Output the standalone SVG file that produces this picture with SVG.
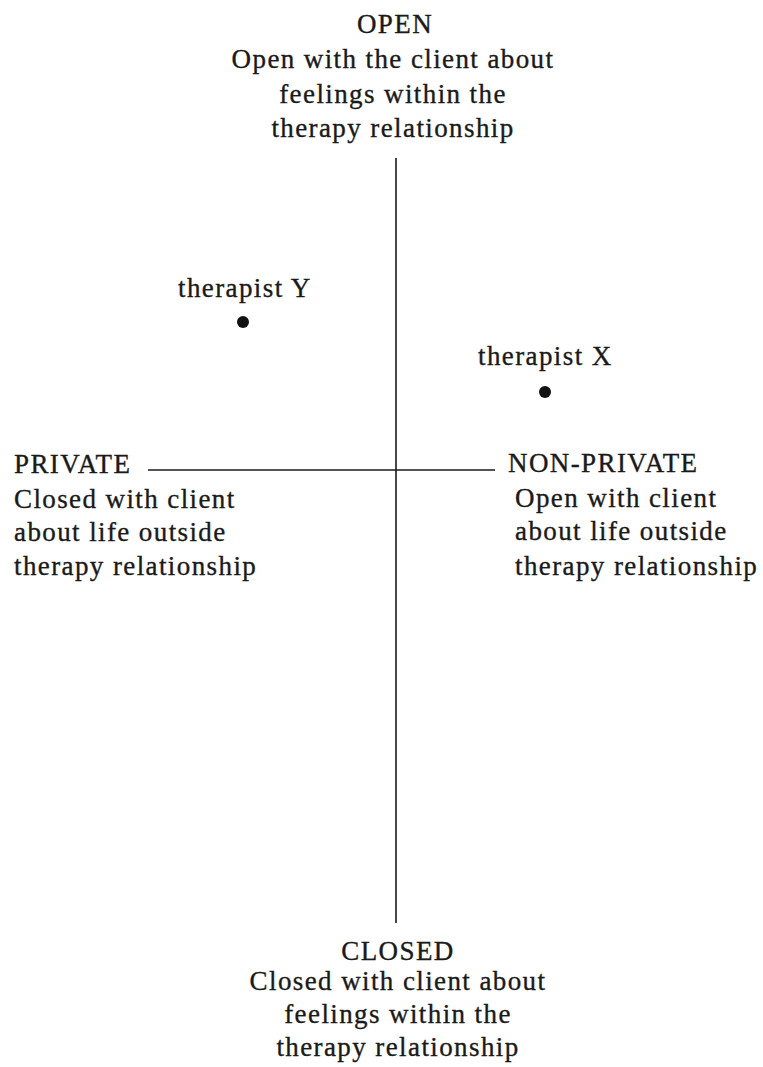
<svg xmlns="http://www.w3.org/2000/svg" width="763" height="1067" viewBox="0 0 763 1067">
<style>
text{font-family:"Liberation Serif","Times New Roman",serif;font-size:27px;fill:#1a1a1a;stroke:#1a1a1a;stroke-width:0.35;letter-spacing:1.4px}
.c{text-anchor:middle}
.ax{stroke:#1a1a1a;stroke-width:1.6;fill:none}
.dot{fill:#111}
</style>
<rect width="763" height="1067" fill="#fff"/>
<g id="axes">
<line class="ax" x1="396" y1="158" x2="396" y2="923"/>
<line class="ax" x1="148" y1="470" x2="495" y2="470"/>
</g>
<g id="open">
<text class="c" x="395" y="33">OPEN</text>
<text class="c" x="393" y="68">Open with the client about</text>
<text class="c" x="393" y="103">feelings within the</text>
<text class="c" x="393" y="137">therapy relationship</text>
</g>
<g id="private">
<text x="14" y="473">PRIVATE</text>
<text x="14" y="508">Closed with client</text>
<text x="14" y="541">about life outside</text>
<text x="14" y="575">therapy relationship</text>
</g>
<g id="nonprivate">
<text x="508" y="472">NON-PRIVATE</text>
<text x="515" y="507">Open with client</text>
<text x="515" y="540">about life outside</text>
<text x="515" y="575">therapy relationship</text>
</g>
<g id="closed">
<text class="c" x="398" y="960">CLOSED</text>
<text class="c" x="398" y="990">Closed with client about</text>
<text class="c" x="398" y="1023">feelings within the</text>
<text class="c" x="398" y="1056">therapy relationship</text>
</g>
<g id="therapistY">
<text x="178" y="297">therapist Y</text>
<circle class="dot" cx="243" cy="322" r="6"/>
</g>
<g id="therapistX">
<text x="478" y="365">therapist X</text>
<circle class="dot" cx="545" cy="392" r="6"/>
</g>
</svg>
